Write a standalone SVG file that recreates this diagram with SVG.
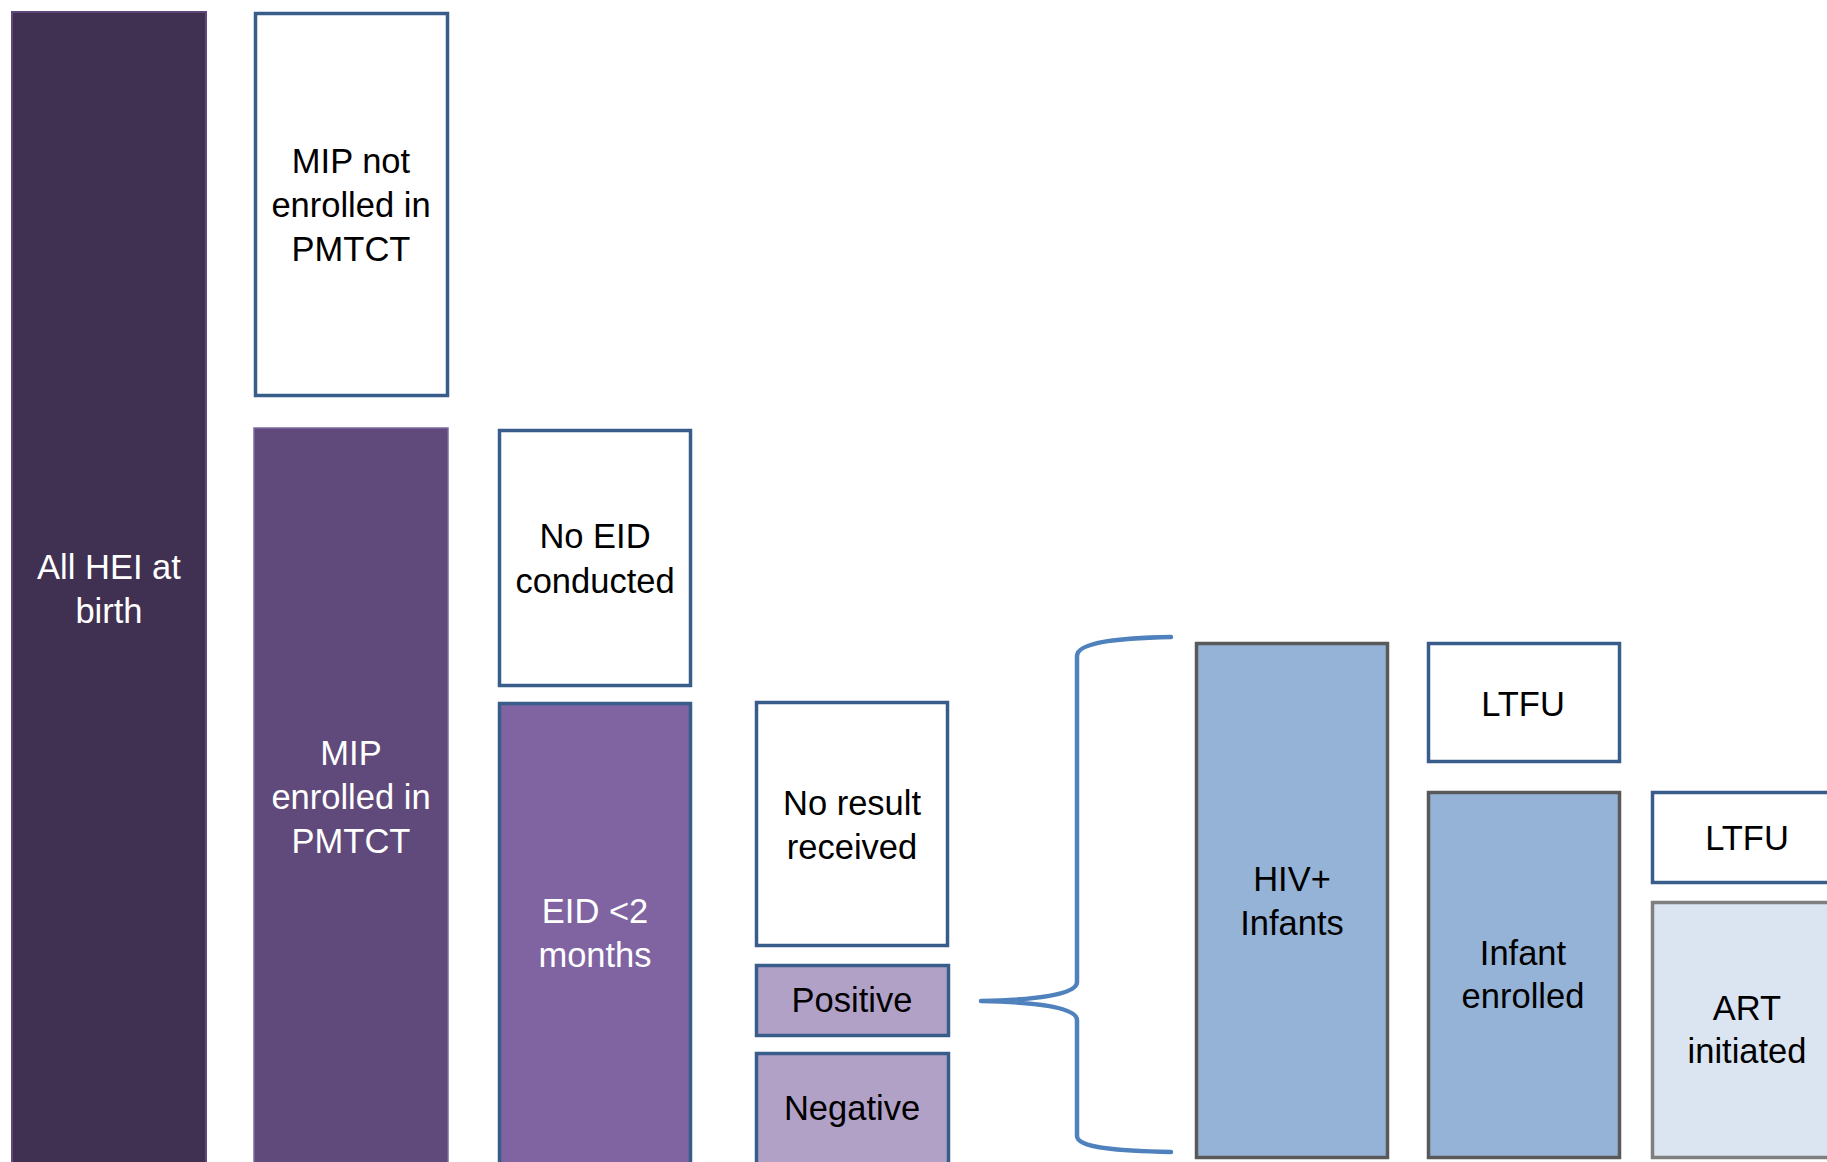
<svg xmlns="http://www.w3.org/2000/svg" width="1827" height="1162" viewBox="0 0 1827 1162">
<style>
text{font-family:"Liberation Sans",Arial,sans-serif;font-size:34.5px;text-anchor:middle;fill:#000}
.w{fill:#fff}
.blue{stroke:#385d8a;stroke-width:3.5}
.gray{stroke:#595959;stroke-width:3.5}
.lgray{stroke:#7f7f7f;stroke-width:3.5}
.white{fill:#fff}
</style>
<rect width="1827" height="1162" fill="#fff"/>
<g id="all-hei">
<rect x="12" y="12" width="194" height="1160" fill="#403152" stroke="#5f497a" stroke-width="2"/>
<text class="w" x="109" y="579">All HEI at</text>
<text class="w" x="109" y="623">birth</text>
</g>
<g id="mip-not-enrolled">
<rect class="blue white" x="255.5" y="13.5" width="192" height="382"/>
<text x="351" y="173">MIP not</text>
<text x="351" y="217">enrolled in</text>
<text x="351" y="261">PMTCT</text>
</g>
<g id="mip-enrolled">
<rect x="254" y="428" width="194" height="744" fill="#604a7b" stroke="#7d6a9c" stroke-width="1.5"/>
<text class="w" x="351" y="765">MIP</text>
<text class="w" x="351" y="809">enrolled in</text>
<text class="w" x="351" y="853">PMTCT</text>
</g>
<g id="no-eid">
<rect class="blue white" x="499.5" y="430.5" width="191" height="255"/>
<text x="595" y="548">No EID</text>
<text x="595" y="593">conducted</text>
</g>
<g id="eid-2-months">
<rect class="blue" x="499.5" y="703.5" width="191" height="470" fill="#8064a2"/>
<text class="w" x="595" y="923">EID &lt;2</text>
<text class="w" x="595" y="967">months</text>
</g>
<g id="no-result">
<rect class="blue white" x="756.5" y="702.5" width="191" height="243"/>
<text x="852" y="815">No result</text>
<text x="852" y="859">received</text>
</g>
<g id="positive">
<rect class="blue" x="756.5" y="965.5" width="192" height="70" fill="#b2a1c7"/>
<text x="852" y="1012">Positive</text>
</g>
<g id="negative">
<rect class="blue" x="756.5" y="1053.5" width="192" height="120" fill="#b2a1c7"/>
<text x="852" y="1120">Negative</text>
</g>
<g id="connectors">
<path d="M1171,637 C1120,638 1077,642 1077,656 L1077,982 C1077,995 1035,1000 981,1001 C1035,1002 1077,1007 1077,1020 L1077,1136 C1077,1148 1120,1151 1171,1152" fill="none" stroke="#4f81bd" stroke-width="4.5" stroke-linecap="round" stroke-linejoin="round"/>
</g>
<g id="hiv-infants">
<rect class="gray" x="1196.5" y="643.5" width="191" height="514" fill="#95b3d7"/>
<text x="1292" y="891">HIV+</text>
<text x="1292" y="935">Infants</text>
</g>
<g id="ltfu-1">
<rect class="blue white" x="1428.5" y="643.5" width="191" height="118"/>
<text x="1523" y="716">LTFU</text>
</g>
<g id="infant-enrolled">
<rect class="gray" x="1428.5" y="792.5" width="191" height="365" fill="#95b3d7"/>
<text x="1523" y="965">Infant</text>
<text x="1523" y="1008">enrolled</text>
</g>
<g id="ltfu-2">
<rect class="blue white" x="1652.5" y="792.5" width="191" height="90"/>
<text x="1747" y="850">LTFU</text>
</g>
<g id="art-initiated">
<rect class="lgray" x="1652.5" y="902.5" width="191" height="255" fill="#dbe5f1"/>
<text x="1747" y="1020">ART</text>
<text x="1747" y="1063">initiated</text>
</g>
</svg>
